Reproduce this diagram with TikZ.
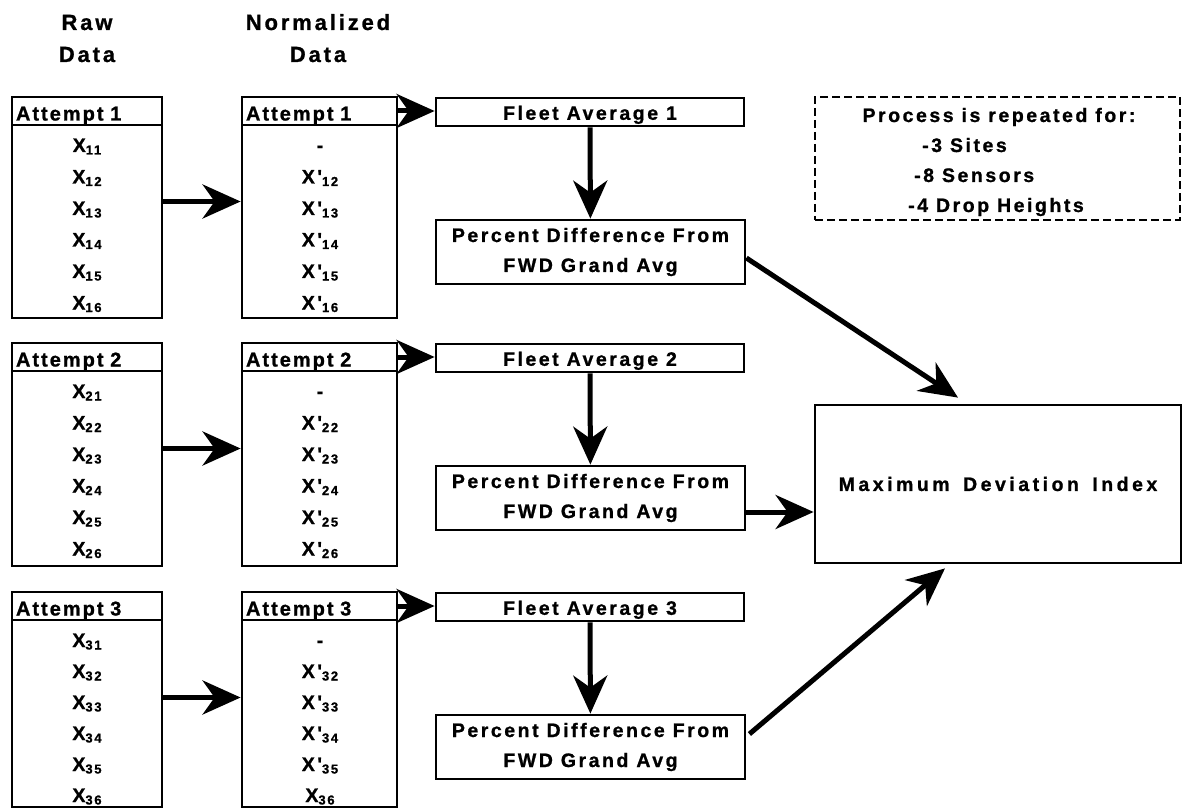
\documentclass[tikz,border=0pt]{standalone}
\usepackage{fontspec}
\setmainfont{Liberation Sans}
\newfontfamily\fbody{Liberation Sans}[LetterSpace=13,BoldFeatures={FakeBold=1}]
\newfontfamily\fhead{Liberation Sans}[LetterSpace=13,BoldFeatures={FakeBold=1}]
\newfontfamily\fatt{Liberation Sans}[LetterSpace=10,BoldFeatures={FakeBold=1}]
\newfontfamily\fmax{Liberation Sans}[LetterSpace=18,WordSpace=1.5,BoldFeatures={FakeBold=1}]
\usetikzlibrary{arrows.meta}
\newcommand\Xs[2]{#1\raisebox{-2.5pt}{\fontsize{13}{13}\selectfont #2}}
\tikzset{
  frame/.style={draw, line width=2.8pt, inner sep=0pt},
  hdr/.style={frame, minimum height=28pt, inner xsep=4pt, align=left,
    text height=20pt, text depth=1pt, font=\fatt\bfseries\fontsize{20}{22}\selectfont},
  rowtxt/.style={anchor=base, inner sep=0pt, font=\fbody\bfseries\fontsize{19.5}{22}\selectfont},
  fleet/.style={frame, minimum width=308pt, minimum height=28pt,
    text height=15.6pt, text depth=0pt, font=\fbody\bfseries\fontsize{19.5}{22}\selectfont},
  pct/.style={frame, minimum width=309pt, minimum height=64pt, align=center,
    font=\fbody\bfseries\fontsize{19.5}{30}\selectfont},
  headtxt/.style={anchor=base, inner sep=0pt, font=\fhead\bfseries\fontsize{22}{24}\selectfont},
  note/.style={anchor=base west, inner sep=0pt, font=\fbody\bfseries\fontsize{19.5}{22}\selectfont},
  arr/.style={line width=5pt, -{Stealth[length=38pt,width=34pt,inset=12pt]}},
}
\begin{document}
\begin{tikzpicture}[x=1pt,y=-1pt]
\useasboundingbox (0,0) rectangle (1183,810);
% headings
\node[headtxt] (rawA) at (87,30) {Raw};
\node[headtxt] (rawB) at (87,62) {Data};
\node[headtxt] (nrmA) at (318,30) {Normalized};
\node[headtxt] (nrmB) at (318,62) {Data};
% groups
\foreach \g/\T/\B/\s/\d in {1/97/318/20/31.5, 2/343/566/20/31.5, 3/592/807/16/31} {
  \node[hdr, text width=142pt] (rh\g) at (87,\T+14) {Attempt \g};
  \node[frame, minimum width=150pt, minimum height={\B-\T-28}] (rb\g) at (87,{(\T+28+\B)/2}) {};
  \node[hdr, text width=147pt] (nh\g) at (319.5,\T+14) {Attempt \g};
  \node[frame, minimum width=155pt, minimum height={\B-\T-28}] (nb\g) at (319.5,{(\T+28+\B)/2}) {};
  \foreach \k in {1,...,6} {
    \node[rowtxt] (rr\g\k) at (87,{\T+55+(\k-1)*\d}) {\Xs{X}{\g\k}};
  }
  \node[rowtxt] (nr\g1) at (320,\T+55) {-};
  \foreach \k in {2,...,5} {
    \node[rowtxt] (nr\g\k) at (320,{\T+55+(\k-1)*\d}) {\Xs{X\char"0027}{\g\k}};
  }
  \draw[arr] ([yshift=\s pt]rb\g.east) -- ([yshift=\s pt]nb\g.west);
  \node[fleet] (fa\g) at (590,\T+15) {Fleet Average \g};
  \node[pct] (pd\g) at (590.5,\T+155) {Percent Difference From\\FWD Grand Avg};
  \draw[arr] (nh\g.east) -- (nh\g.east -| fa\g.west);
  \draw[arr] (fa\g) -- (pd\g);
}
\node[rowtxt] (nr16) at (320,{97+55+5*31.5}) {\Xs{X\char"0027}{16}};
\node[rowtxt] (nr26) at (320,{343+55+5*31.5}) {\Xs{X\char"0027}{26}};
\node[rowtxt] (nr36) at (320,{592+55+5*31}) {\Xs{X}{36}};
% note box
\node[draw, line width=2pt, dash pattern=on 8pt off 4pt, minimum width=365pt, minimum height=123pt, inner sep=0pt] (rep) at (997.5,158.5) {};
\node[note, anchor=base] (rep0) at (999,122) {Process is repeated for:};
\node[note] (rep1) at (922,152) {-3 Sites};
\node[note] (rep2) at (914,182) {-8 Sensors};
\node[note] (rep3) at (908,212) {-4 Drop Heights};
% max deviation
\node[frame, minimum width=366pt, minimum height=158pt, font=\fmax\bfseries\fontsize{19.5}{22}\selectfont] (md) at (998,484) {Maximum Deviation Index};
\draw[arr] ([yshift=-6pt]pd1.east) -- ([xshift=-40pt,yshift=6pt]md.north);
\draw[arr] ([yshift=-14pt]pd2.east) -- ([yshift=-14pt]pd2.east -| md.west);
\draw[arr] ([xshift=3pt,yshift=13pt]pd3.east) -- ([xshift=-53pt,yshift=-4pt]md.south);
\end{tikzpicture}
\end{document}
